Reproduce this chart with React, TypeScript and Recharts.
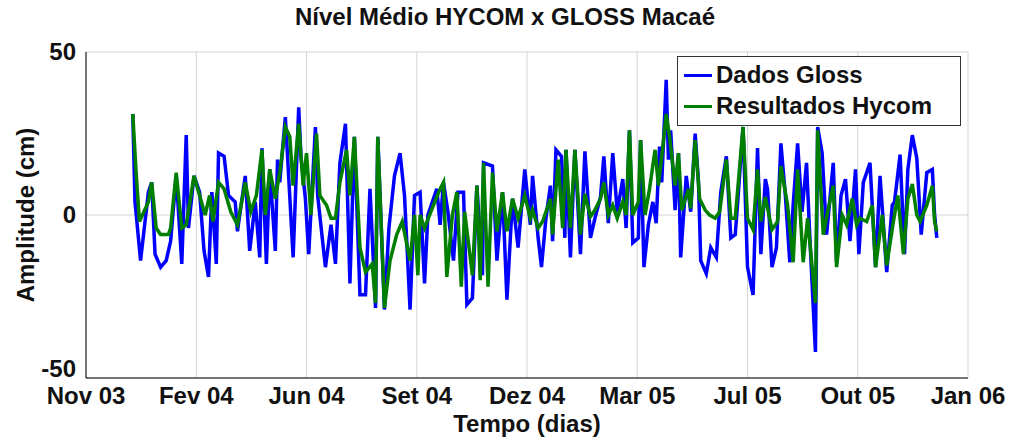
import { LineChart, Line, XAxis, YAxis, CartesianGrid } from 'recharts';

// x = dias desde o primeiro tick (Nov 03), y = amplitude em cm
const tickLabels = ['Nov 03', 'Fev 04', 'Jun 04', 'Set 04', 'Dez 04', 'Mar 05', 'Jul 05', 'Out 05', 'Jan 06'];
const tickDays = [0, 99, 198, 297, 396, 495, 594, 693, 792];
const yTicks = [-50, 0, 50];

const glossDays = [
  42, 44, 49, 56, 59, 62, 67, 72, 76, 81, 86, 90, 92, 97, 102, 106, 110, 113, 117, 119, 124, 128, 134, 136, 143, 147, 152, 156, 158, 162,
  165, 170, 172, 174, 179, 180, 186, 191, 193, 197, 200, 206, 208, 215, 220, 224, 228, 233, 237, 241, 246, 251, 255, 260, 262, 268, 272, 277, 282, 286,
  291, 295, 300, 304, 307, 315, 318, 321, 325, 330, 334, 339, 342, 347, 351, 356, 357, 365, 369, 374, 378, 383, 388, 394, 399, 401, 406, 409, 413, 417,
  419, 422, 427, 430, 431, 435, 439, 444, 448, 453, 457, 462, 465, 469, 473, 477, 482, 485, 488, 491, 496, 498, 501, 505, 509, 512, 515, 517, 521, 523,
  525, 529, 532, 534, 539, 543, 547, 550, 552, 557, 561, 566, 570, 575, 579, 583, 585, 590, 594, 599, 603, 606, 610, 612, 616, 620, 624, 628, 632, 635,
  639, 643, 647, 650, 655, 657, 661, 665, 671, 674, 678, 682, 686, 691, 694, 698, 704, 709, 713, 719, 724, 726, 731, 735, 738, 742, 746, 750, 755, 760,
  762, 764,
];
const glossValues = [
  31, 4, -14, 7, 10, -12, -16, -14, -8, 12, -15, 24.5, -4, 12, 7, -11, -19, 7, -15, 19, 18, 6, 4, -5, 12, -11, 4, -13, 20.5, -15,
  14, -11, 17, 10, 30, 24, -13, 33, 18, 5, -12, 27, 6, -16, -3, -15, 16, 28, -21, 24, -24.5, -24.5, 8, -28.5, 24, -29, -4, 12, 19, 6,
  -29, 6, 7, -21, 0, 8, -3, 10, 1, -14, 7, 7, -27.5, -25.5, 9, -18.5, 16, 15, -14, 7, -26, 5, -10, 14, -3, 12, -7, -16, -1, 9,
  -8, 20, 18, -7, 20, -13, 20, -12, 19.5, -7, -1, 5.5, 18, -2.5, 19, 1, 11, -4, 26, -8.5, -7, 23, -16, -3, 4, -2.5, 21, 10, 41.5, 17,
  26, 1.5, 19, -13, 12, 1, 25, 10, -14, -18, -10, -13, 7, 18, -7, -6, 3, 27, -16, -24.5, 20.5, -12, 11, 8, -16, -10, 22, 6, -14.5, 3,
  22, 1, 16, -7, -42, 27, 19, -6, 16, -14.5, 6, 11, -8, 14, -12, 10, 16, -16, 12, -17.5, 3, 4, 18.5, -12, 14, 24.5, 17.5, -6, 13, 14,
  0, -7,
];

const hycomDays = [
  42, 45, 48, 56, 59, 63, 67, 74, 76, 81, 86, 90, 97, 102, 107, 111, 114, 119, 124, 130, 136, 143, 148, 153, 158, 161, 165, 170, 174, 179,
  183, 186, 191, 195, 198, 202, 207, 210, 216, 220, 224, 228, 234, 237, 241, 246, 251, 257, 260, 262, 268, 273, 279, 284, 291, 295, 298, 300, 304, 312,
  318, 321, 324, 329, 333, 337, 340, 347, 351, 354, 357, 361, 365, 369, 374, 378, 383, 388, 394, 399, 401, 406, 410, 417, 419, 424, 428, 431, 435, 439,
  444, 448, 453, 457, 462, 465, 469, 473, 477, 482, 485, 488, 491, 496, 498, 502, 506, 511, 514, 518, 521, 524, 529, 532, 535, 541, 543, 547, 551, 556,
  560, 565, 569, 575, 579, 583, 590, 594, 599, 603, 606, 610, 616, 621, 624, 630, 635, 639, 644, 648, 655, 657, 662, 666, 671, 674, 679, 683, 688, 692,
  695, 701, 706, 709, 715, 719, 725, 729, 734, 738, 742, 746, 749, 755, 760, 762, 764,
];
const hycomValues = [
  31, 13, -2, 4, 10, -4, -6, -6, -4, 13, -4, -3, 12, 6, 0, 6, -2, 10, 8, 1, -3, 10, 1, 6, 20, 0, 14, 5, 13, 27,
  24, 9, 28, 9, 19, 0, 25, 6, 3, -1, -1, 10, 20, 6, 24, -10, -17.5, -15, -27, 24, -28.5, -14, -6, -2, -14, 0, -18.5, 0, -4, 3,
  8, 10, -19, 0, 7, -22, 1, -18.5, 9, -20, 16, -22, 13, -5, 7, -5, 5, -1, 6, -1, 1.5, -4, -2, 5, -6, 17, -4, 20, -4, 20,
  -6, 6.5, -0.5, 1.5, 5, 10, 0, 3, -1, 4, 0, 26, 0, 4, 23, 0, 8, 20, 9, 21, 31, 24, 9, 19, 1.5, 8, 2, 23, 5, 1.5,
  0, -1, 1, 17, -1, -1, 27, -1, -4.5, 14, -2, 5.5, -4.5, -2, 15, 3, -14.5, 14, -14.5, -1, -27, 26, -6, 1, 9, -16, 0, -3, 5, -3,
  -1, -2, 3, -16, 0, -15.5, -2, 6, -12, 5, 9.5, 0, -2, 3, 9, -2, -5,
];

const glossData = glossDays.map((d, i) => ({ d, v: glossValues[i] }));
const hycomData = hycomDays.map((d, i) => ({ d, v: hycomValues[i] }));

const FONT = "'Liberation Sans', Arial, sans-serif";
const BLUE = '#0000ff';
const GREEN = '#007f00';

// y tick: o "-50" sobe um pouco para não encostar no "Nov 03"
function YTick(props: any) {
  const { x, y, payload } = props;
  const shift = payload.value === -50 ? -9 : 0;
  return (
    <text x={x} y={y + shift} dy={8} textAnchor="end" fill="#111" fontSize={24} fontWeight="bold" fontFamily={FONT}>
      {payload.value}
    </text>
  );
}

export default function App() {
  return (
    <div style={{ position: 'absolute', left: 0, top: 0, width: 1010, height: 439, background: '#fff', fontFamily: FONT }}>
      <LineChart width={1010} height={439} data={glossData} margin={{ top: 52, right: 42, bottom: 21, left: 0 }}>
        <CartesianGrid stroke="#d4d4d4" strokeWidth={1} />
        <XAxis
          dataKey="d"
          type="number"
          domain={[0, 792]}
          ticks={tickDays}
          tickFormatter={(v) => tickLabels[tickDays.indexOf(v)]}
          height={40}
          stroke="#000"
          tickLine={false}
          tick={{ fill: '#111', fontSize: 24, fontWeight: 'bold', fontFamily: FONT }}
          tickMargin={3}
          allowDataOverflow
        />
        <XAxis xAxisId="top" orientation="top" type="number" domain={[0, 792]} height={0} tick={false} tickLine={false} stroke="#000" />
        <YAxis
          type="number"
          domain={[-50, 50]}
          ticks={yTicks}
          width={86}
          stroke="#000"
          tickLine={false}
          tick={<YTick />}
          tickMargin={4}
        />
        <YAxis yAxisId="right" orientation="right" domain={[-50, 50]} width={0} tick={false} tickLine={false} stroke="#000" />
        <Line data={glossData} dataKey="v" type="linear" stroke={BLUE} strokeWidth={3.5} dot={false} isAnimationActive={false} />
        <Line data={hycomData} dataKey="v" type="linear" stroke={GREEN} strokeWidth={3.5} dot={false} isAnimationActive={false} />
      </LineChart>

      <div style={{ position: 'absolute', left: 0, width: 1010, top: 3, textAlign: 'center', fontSize: 24, fontWeight: 'bold', color: '#111' }}>
        Nível Médio HYCOM x GLOSS Macaé
      </div>
      <div style={{ position: 'absolute', left: 86, width: 882, top: 411, textAlign: 'center', fontSize: 24, fontWeight: 'bold', color: '#111', lineHeight: '26px' }}>
        Tempo (dias)
      </div>
      <div
        style={{
          position: 'absolute', left: 26, top: 215, width: 300, marginLeft: -150, marginTop: -14, textAlign: 'center',
          transform: 'rotate(-90deg)', fontSize: 24, fontWeight: 'bold', color: '#111', lineHeight: '28px',
        }}
      >
        Amplitude (cm)
      </div>

      <div
        style={{
          position: 'absolute', left: 677, top: 56, width: 284, height: 70, background: '#fff', border: '1px solid #333',
          boxSizing: 'border-box', fontSize: 24, fontWeight: 'bold', color: '#111',
        }}
      >
        <div style={{ position: 'absolute', left: 6, top: 2, display: 'flex', alignItems: 'center', height: 32 }}>
          <div style={{ width: 28, height: 3, background: BLUE, marginRight: 4 }} />
          <span>Dados Gloss</span>
        </div>
        <div style={{ position: 'absolute', left: 6, top: 33, display: 'flex', alignItems: 'center', height: 32 }}>
          <div style={{ width: 28, height: 3, background: GREEN, marginRight: 4 }} />
          <span>Resultados Hycom</span>
        </div>
      </div>
    </div>
  );
}
